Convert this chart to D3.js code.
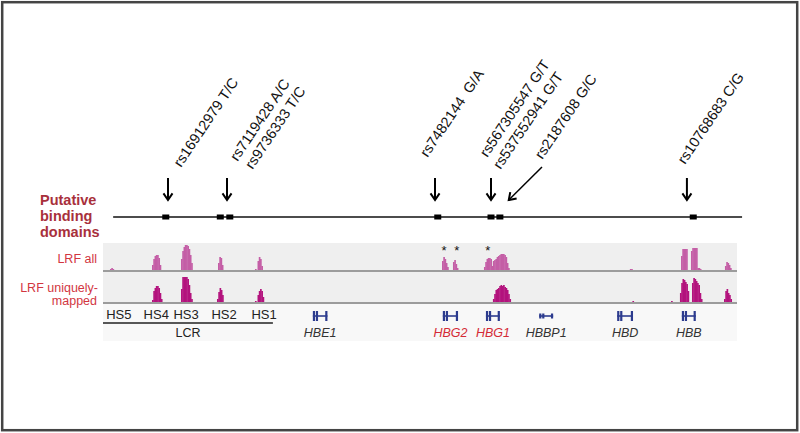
<!DOCTYPE html>
<html><head><meta charset="utf-8">
<script src="https://cdn.jsdelivr.net/npm/d3@7"></script>
<style>
body{margin:0;background:#fff}
svg{display:block}
text{font-family:"Liberation Sans",Arial,Helvetica,sans-serif}
</style>
</head><body>
<svg id="c" width="800" height="433"></svg>
<script>
// ---- data (genomic positions in kb, relative to left edge of the browser window) ----
const bindingDomains = [9.9, 18.5, 20.0, 52.8, 61.2, 62.6, 93.1];
const bindingLine = [1.6, 100.8];
const snpArrows = [10.25, 19.56, 52.37, 61.2, 92.1];
const snpLabels = ["rs16912979 T/C", "rs7119428 A/C", "rs9736333 T/C", "rs7482144  G/A",
                   "rs567305547 G/T", "rs537552941 G/T", "rs2187608 G/C", "rs10768683 C/G"];
const snpLabelPos = [12.3, 21.2, 23.6, 51.2, 60.6, 62.7, 69.3, 91.8];
const snpLabelY = [168, 162, 170, 158, 158, 170, 160, 165];
const diagArrow = {from: 69.24, to: 64.0};

const binSize = 0.2;
const lrfAll = [
  {s: 1.1,   v: [2, 3, 2]},
  {s: 7.73,  v: [6, 12, 15, 16, 16, 13, 6]},
  {s: 12.3,  v: [12, 20, 24, 26, 26, 25, 22, 16, 8]},
  {s: 18.14, v: [8, 14, 13, 6]},
  {s: 23.97, v: [2, 0, 10, 14, 12, 5]},
  {s: 53.47, v: [10, 14, 12, 8, 4]},
  {s: 55.2,  v: [9, 11, 7, 3]},
  {s: 60.09, v: [4, 9, 12, 13, 13, 12, 5, 10, 11, 12, 14, 15, 16, 17, 17, 17, 16, 14, 8, 3]},
  {s: 83.1,  v: [2, 2]},
  {s: 91.17, v: [15, 22, 22, 22, 22]},
  {s: 92.74, v: [20, 23, 23, 23, 23, 3, 3, 2]},
  {s: 98.1,  v: [5, 9, 8, 6, 3]}
];
const lrfUnique = [
  {s: 7.73,  v: [3, 12, 15, 17, 17, 15, 10, 4]},
  {s: 12.3,  v: [14, 26, 26, 26, 26, 24, 18, 10, 4]},
  {s: 17.98, v: [4, 11, 15, 13, 8]},
  {s: 23.97, v: [2, 0, 8, 12, 14, 12, 6]},
  {s: 61.5,  v: [4, 9, 13, 14, 15, 17, 18, 17, 18, 16, 15, 13, 9, 4]},
  {s: 83.5,  v: [2]},
  {s: 89.6,  v: [2]},
  {s: 91.0,  v: [10, 20, 24, 23, 21, 19, 12]},
  {s: 92.9,  v: [20, 25, 24, 22, 20, 18, 10, 4]},
  {s: 97.95, v: [4, 12, 14, 10, 8, 4]}
];
const starPos = [53.8, 55.8, 60.7];

const hsNames = ["HS5", "HS4", "HS3", "HS2", "HS1"];
const hsPos = [2.5, 8.4, 13.1, 19.1, 25.4];
const lcrRange = [0, 26.8];

const geneNames = ["HBE1", "HBG2", "HBG1", "HBBP1", "HBD", "HBB"];
const geneStart = [33.1, 53.6, 60.4, 68.8, 81.1, 91.3];
const geneEnd   = [35.4, 56.0, 62.6, 71.0, 83.6, 93.5];
const geneHighlight = [false, true, true, false, false, false];
const genePseudo = [false, false, false, true, false, false];

// ---- drawing ----
const svg = d3.select("#c");
const xs = d3.scaleLinear().domain([0, 100]).range([103, 737]);
const yAll = d3.scaleLinear().domain([0, 28]).range([271, 243]);
const yUni = d3.scaleLinear().domain([0, 28]).range([303, 275]);
const darkRed = "#a8303c", red = "#d2363f", navy = "#2c3b8e";

// frame
svg.append("rect").attr("x", 2.2).attr("y", 2.2).attr("width", 795).attr("height", 428)
  .attr("fill", "none").attr("stroke", "#444").attr("stroke-width", 2.5);

// panel backgrounds
svg.append("rect").attr("x", xs(0)).attr("y", 303).attr("width", xs(100) - xs(0)).attr("height", 38)
  .attr("fill", "#f8f8f8");
svg.append("rect").attr("x", xs(0)).attr("y", 243).attr("width", xs(100) - xs(0)).attr("height", 60)
  .attr("fill", "#efefef");

// binding domains track
svg.append("line").attr("x1", xs(bindingLine[0])).attr("x2", xs(bindingLine[1]))
  .attr("y1", 217).attr("y2", 217).attr("stroke", "#111").attr("stroke-width", 1.5);
svg.selectAll("rect.bd").data(bindingDomains).join("rect").attr("class", "bd")
  .attr("x", d => xs(d) - 3.5).attr("y", 214.5).attr("width", 7).attr("height", 5).attr("fill", "#000");

// arrows
function arrowHead(g, x, y, ang) {
  const L = 8, w = 0.6;
  const p1 = [x - L * Math.cos(ang - w), y - L * Math.sin(ang - w)];
  const p2 = [x - L * Math.cos(ang + w), y - L * Math.sin(ang + w)];
  g.append("path").attr("d", `M${p1[0]},${p1[1]}L${x},${y}L${p2[0]},${p2[1]}`)
    .attr("fill", "none").attr("stroke", "#000").attr("stroke-width", 2);
}
const ag = svg.append("g");
snpArrows.forEach(p => {
  const x = xs(p);
  ag.append("line").attr("x1", x).attr("x2", x).attr("y1", 178).attr("y2", 200)
    .attr("stroke", "#000").attr("stroke-width", 2);
  arrowHead(ag, x, 200, Math.PI / 2);
});
{
  const x1 = xs(diagArrow.from), y1 = 167, x2 = xs(diagArrow.to), y2 = 200;
  ag.append("line").attr("x1", x1).attr("y1", y1).attr("x2", x2).attr("y2", y2)
    .attr("stroke", "#000").attr("stroke-width", 1.5);
  arrowHead(ag, x2, y2, Math.atan2(y2 - y1, x2 - x1));
}
// snp labels
svg.selectAll("text.snp").data(snpLabels).join("text").attr("class", "snp")
  .attr("transform", (d, i) => `translate(${xs(snpLabelPos[i])},${snpLabelY[i]}) rotate(-56)`)
  .attr("font-size", 14.5).attr("fill", "#111")
  .style("white-space", "pre").text(d => d);

// left labels
const lt = svg.append("text").attr("font-size", 14.5).attr("font-weight", "bold").attr("fill", darkRed);
[["Putative", 205], ["binding", 221], ["domains", 237]].forEach(([t, y]) =>
  lt.append("tspan").attr("x", 40).attr("y", y).text(t));
svg.append("text").attr("x", 97).attr("y", 263).attr("text-anchor", "end").attr("font-size", 12.5)
  .attr("fill", red).text("LRF all");
svg.append("text").attr("x", 98).attr("y", 292).attr("text-anchor", "end").attr("font-size", 12.5)
  .attr("fill", red).text("LRF uniquely-");
svg.append("text").attr("x", 97).attr("y", 305).attr("text-anchor", "end").attr("font-size", 12.5)
  .attr("fill", red).text("mapped");

// coverage tracks
function drawTrack(data, y, color) {
  const g = svg.append("g");
  data.forEach(pk => {
    g.selectAll(null).data(pk.v).join("rect")
      .attr("x", (d, i) => xs(pk.s + i * binSize))
      .attr("width", xs(binSize) - xs(0) + 0.4)
      .attr("y", d => y(d))
      .attr("height", d => y(0) - y(d))
      .attr("fill", color);
  });
}
drawTrack(lrfAll, yAll, "#c45ea6");
drawTrack(lrfUnique, yUni, "#b3127d");

// baselines
[271, 303].forEach(y => svg.append("line").attr("x1", xs(0)).attr("x2", xs(100))
  .attr("y1", y).attr("y2", y).attr("stroke", "#9c9c9c").attr("stroke-width", 2));

// stars
svg.selectAll("text.star").data(starPos).join("text").attr("class", "star")
  .attr("x", d => xs(d)).attr("y", 255).attr("text-anchor", "middle").attr("font-size", 13)
  .attr("fill", "#111").text("*");

// HS labels and LCR
svg.selectAll("text.hs").data(hsNames).join("text").attr("class", "hs")
  .attr("x", (d, i) => xs(hsPos[i])).attr("y", 319).attr("text-anchor", "middle")
  .attr("font-size", 13).attr("fill", "#222").text(d => d);
svg.append("line").attr("x1", xs(lcrRange[0])).attr("x2", xs(lcrRange[1])).attr("y1", 323).attr("y2", 323)
  .attr("stroke", "#222").attr("stroke-width", 1.6);
svg.append("text").attr("x", xs((lcrRange[0] + lcrRange[1]) / 2)).attr("y", 337).attr("text-anchor", "middle")
  .attr("font-size", 12.5).attr("fill", "#222").text("LCR");

// genes
const gg = svg.append("g");
geneNames.forEach((n, i) => {
  const a = xs(geneStart[i]), b = xs(geneEnd[i]), yc = 316;
  const h = genePseudo[i] ? 5 : 10;
  gg.append("line").attr("x1", a).attr("x2", b).attr("y1", yc).attr("y2", yc)
    .attr("stroke", navy).attr("stroke-width", 1.6);
  gg.append("rect").attr("x", a).attr("y", yc - h / 2).attr("width", 2.2).attr("height", h).attr("fill", navy);
  gg.append("rect").attr("x", a + 3).attr("y", yc - h / 2).attr("width", 2.2).attr("height", h).attr("fill", navy);
  gg.append("rect").attr("x", b - 2.2).attr("y", yc - h / 2).attr("width", 2.2).attr("height", h).attr("fill", navy);
  gg.append("text").attr("x", (a + b) / 2).attr("y", 337).attr("text-anchor", "middle")
    .attr("font-size", 12.5).attr("font-style", "italic")
    .attr("fill", geneHighlight[i] ? "#d42a36" : "#333").text(n);
});
</script>
</body></html>
